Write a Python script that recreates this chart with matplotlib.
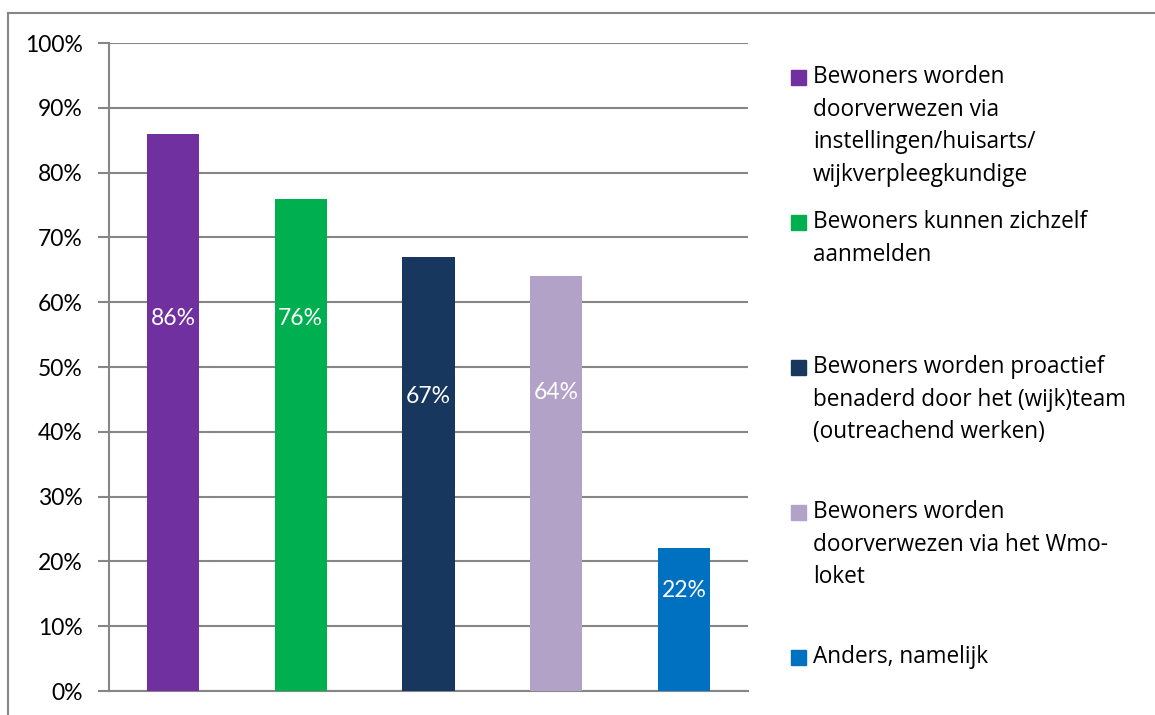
import matplotlib.pyplot as plt
from matplotlib.lines import Line2D
from matplotlib.patches import Rectangle

# Chart data
categories = [
    'Bewoners worden\ndoorverwezen via\ninstellingen/huisarts/\nwijkverpleegkundige',
    'Bewoners kunnen zichzelf\naanmelden',
    'Bewoners worden proactief\nbenaderd door het (wijk)team\n(outreachend werken)',
    'Bewoners worden\ndoorverwezen via het Wmo-\nloket',
    'Anders, namelijk',
]
values = [86, 76, 67, 64, 22]
label_y = [57.5, 57.5, 45.5, 46, 15.5]  # where Excel put the data labels
colors = ['#7030A0', '#00B050', '#17375E', '#B3A2C7', '#0070C0']

plt.rcParams['font.family'] = ['Lato', 'DejaVu Sans']

W, H = 1155, 715
fig = plt.figure(figsize=(W / 100, H / 100), dpi=100)
ax = fig.add_axes([109 / W, 1 - 691 / H, (748 - 109) / W, (691 - 43) / H])

x = range(len(values))
ax.bar(x, values, width=0.41, color=colors, zorder=3)
for i, (v, ly) in enumerate(zip(values, label_y)):
    ax.text(i, ly, f'{v}%', ha='center', va='center', color='white',
            fontsize=16.5, zorder=4)

ax.set_xlim(-0.5, len(values) - 0.5)
ax.set_ylim(0, 100)
ax.set_yticks(range(0, 101, 10))
ax.set_yticklabels([f'{t}%' for t in range(0, 101, 10)], fontsize=16.5)
ax.set_xticks([])
ax.yaxis.grid(True, color='#868686', linewidth=1.5, zorder=0)
ax.tick_params(axis='y', length=8, width=1.5, color='#868686', pad=11)
for s in ['top', 'right']:
    ax.spines[s].set_visible(False)
for s in ['left', 'bottom']:
    ax.spines[s].set_color('#868686')
    ax.spines[s].set_linewidth(1.5)

# legend drawn by hand, spread over the height like Excel does
y_first = 77
step = 145
for i, (lab, c) in enumerate(zip(categories, colors)):
    yc = y_first + i * step
    fig.patches.append(Rectangle((791 / W, 1 - (yc + 7.5) / H), 15 / W, 15 / H,
                                 transform=fig.transFigure, color=c))
    fig.text(813 / W, 1 - (yc - 12) / H, lab, ha='left', va='top',
             fontsize=16.3, linespacing=1.48, family=['Open Sans', 'DejaVu Sans'])

# outer chart border
fig.lines.append(Line2D([8 / W, 8 / W], [0, 1 - 13 / H], transform=fig.transFigure,
                        color='#868686', linewidth=1.5))
fig.lines.append(Line2D([8 / W, 1], [1 - 13 / H, 1 - 13 / H], transform=fig.transFigure,
                        color='#868686', linewidth=1.5))

fig.savefig('out.png', dpi=100)
